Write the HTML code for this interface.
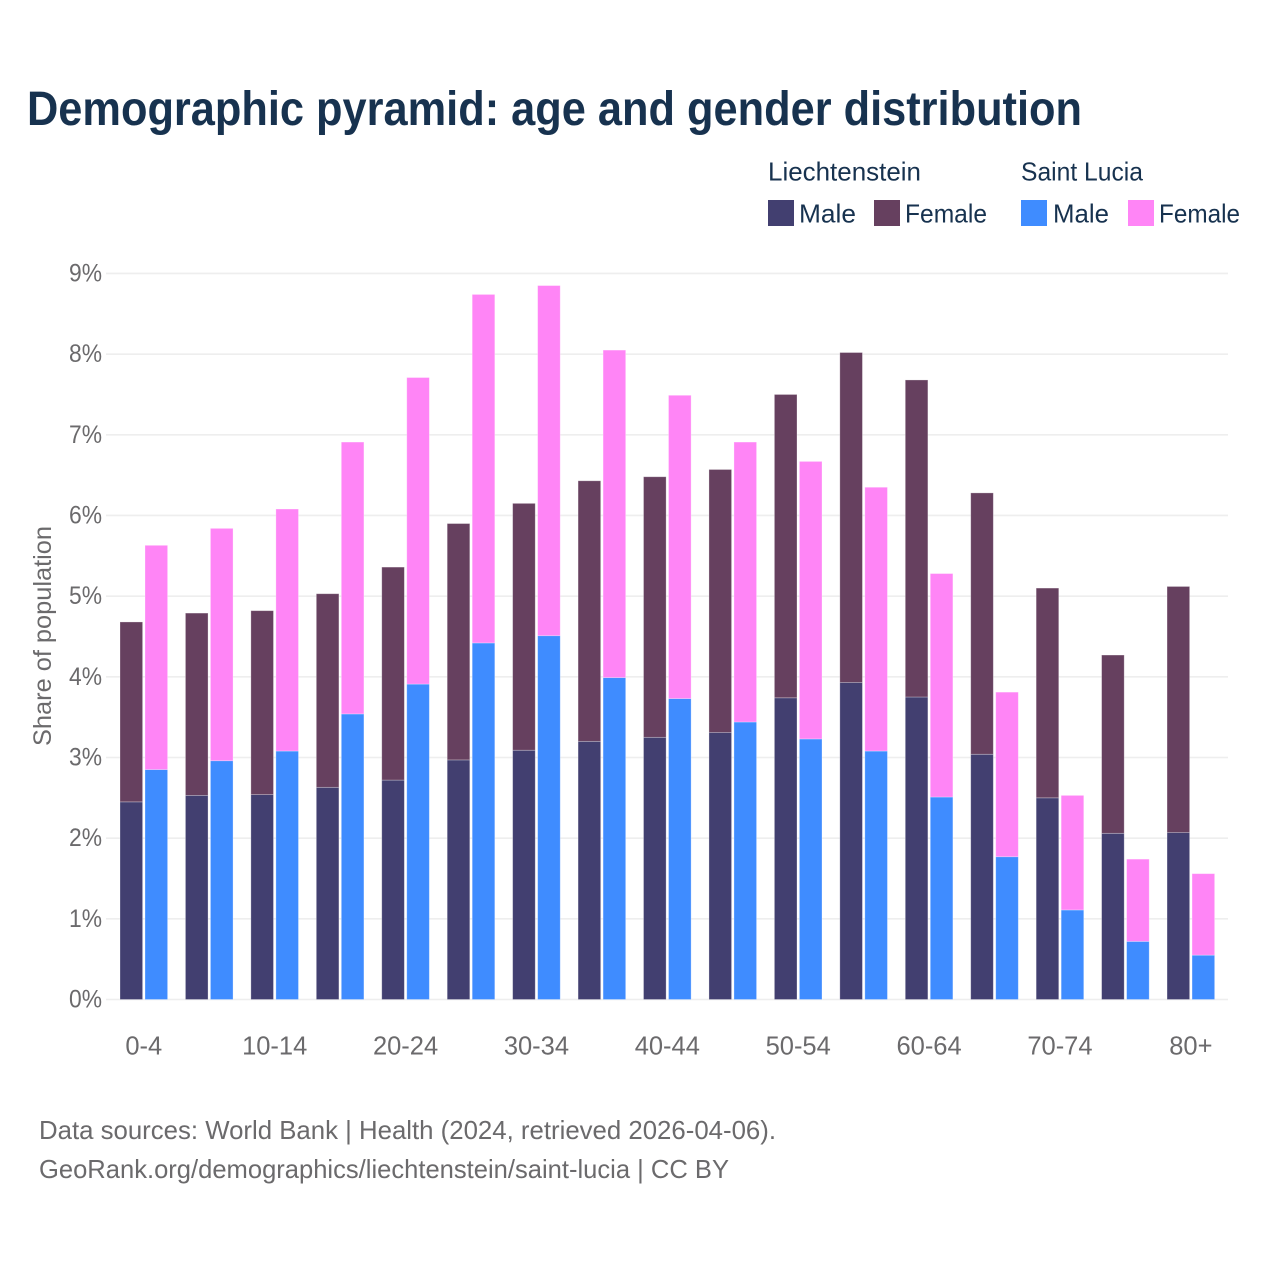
<!DOCTYPE html>
<html lang="en">
<head>
<meta charset="utf-8">
<title>Demographic pyramid: age and gender distribution</title>
<style>
html,body{margin:0;padding:0;background:#fff;}
svg{display:block;font-family:"Liberation Sans",sans-serif;}
</style>
</head>
<body>
<svg id="chart" xmlns="http://www.w3.org/2000/svg" width="1280" height="1280" viewBox="0 0 1280 1280">
<rect x="0" y="0" width="1280" height="1280" fill="#ffffff"/>
<text x="27" y="125" font-size="48" font-weight="700" fill="#17324f" textLength="1055" lengthAdjust="spacingAndGlyphs">Demographic pyramid: age and gender distribution</text>

<g font-size="26" fill="#17324f">
<text x="768" y="180.5" textLength="153" lengthAdjust="spacingAndGlyphs">Liechtenstein</text>
<text x="1021" y="180.5" textLength="122" lengthAdjust="spacingAndGlyphs">Saint Lucia</text>
<rect x="768" y="200" width="26" height="26" fill="#423f70"/>
<text x="799" y="222.5" textLength="57" lengthAdjust="spacingAndGlyphs">Male</text>
<rect x="874" y="200" width="26" height="26" fill="#66405f"/>
<text x="905" y="222.5" textLength="82" lengthAdjust="spacingAndGlyphs">Female</text>
<rect x="1021" y="200" width="26" height="26" fill="#3f8cff"/>
<text x="1053" y="222.5" textLength="56" lengthAdjust="spacingAndGlyphs">Male</text>
<rect x="1128" y="200" width="26" height="26" fill="#ff85f6"/>
<text x="1159" y="222.5" textLength="81" lengthAdjust="spacingAndGlyphs">Female</text>
</g>

<g id="grid"></g>
<g id="yticks"></g>
<g id="bars"></g>
<g id="xticks"></g>

<text transform="translate(51,746) rotate(-90)" font-size="25" fill="#6b6a6c" textLength="220" lengthAdjust="spacingAndGlyphs">Share of population</text>

<text x="39" y="1139" font-size="26" fill="#6b6a6c" textLength="737" lengthAdjust="spacingAndGlyphs">Data sources: World Bank | Health (2024, retrieved 2026-04-06).</text>
<text x="39" y="1178" font-size="26" fill="#6b6a6c" textLength="690" lengthAdjust="spacingAndGlyphs">GeoRank.org/demographics/liechtenstein/saint-lucia | CC BY</text>
</svg>
<script>
const ageGroups = ["0-4","5-9","10-14","15-19","20-24","25-29","30-34","35-39","40-44","45-49","50-54","55-59","60-64","65-69","70-74","75-79","80+"];
const xTickLabels = ["0-4","10-14","20-24","30-34","40-44","50-54","60-64","70-74","80+"];
const yTickValues = [0,1,2,3,4,5,6,7,8,9];
const liechtensteinMale = [2.45,2.53,2.54,2.63,2.72,2.97,3.09,3.20,3.25,3.31,3.74,3.93,3.75,3.04,2.50,2.06,2.07];
const liechtensteinFemale = [2.23,2.26,2.28,2.40,2.64,2.93,3.06,3.23,3.23,3.26,3.76,4.09,3.93,3.24,2.60,2.21,3.05];
const saintLuciaMale = [2.85,2.96,3.08,3.54,3.91,4.42,4.51,3.99,3.73,3.44,3.23,3.08,2.51,1.77,1.11,0.72,0.55];
const saintLuciaFemale = [2.78,2.88,3.00,3.37,3.80,4.32,4.34,4.06,3.76,3.47,3.44,3.27,2.77,2.04,1.42,1.02,1.01];

const NS = "http://www.w3.org/2000/svg";
const plotLeft = 106, plotRight = 1228, axisZero = 999.5, unitHeight = 80.67;
const firstBand = 120, bandStep = 65.44, barWidth = 22.6, barGap = 25;

function yScale(v){ return axisZero - v * unitHeight; }
function xScale(i, seriesIndex){ return firstBand + i * bandStep + seriesIndex * barGap; }

const grid = document.getElementById("grid");
const yticks = document.getElementById("yticks");
yTickValues.forEach(function(v){
  const line = document.createElementNS(NS, "line");
  
  
  line.setAttribute("x1", plotLeft);
  line.setAttribute("x2", plotRight);
  line.setAttribute("y1", yScale(v));
  line.setAttribute("y2", yScale(v));
  line.setAttribute("stroke", "#eeeeee");
  line.setAttribute("stroke-width", "1.6");
  grid.appendChild(line);

  const label = document.createElementNS(NS, "text");
  
  
  label.setAttribute("x", 69);
  label.setAttribute("y", yScale(v) + 8);
  label.setAttribute("font-size", "25");
  label.setAttribute("fill", "#6b6a6c");
  label.setAttribute("textLength", "33");
  label.setAttribute("lengthAdjust", "spacingAndGlyphs");
  label.textContent = v + "%";
  yticks.appendChild(label);
});

const bars = document.getElementById("bars");
function addBar(i, seriesIndex, start, value, color, name){
  const r = document.createElementNS(NS, "rect");
  
  
  const top = yScale(start + value);
  r.setAttribute("x", xScale(i, seriesIndex));
  r.setAttribute("y", top);
  r.setAttribute("width", barWidth);
  r.setAttribute("height", yScale(start) - top);
  r.setAttribute("fill", color);
  r.setAttribute("stroke", "#ffffff");
  r.setAttribute("stroke-opacity", "0.35");
  r.setAttribute("stroke-width", "0.8");
  bars.appendChild(r);
}
ageGroups.forEach(function(age, i){
  addBar(i, 0, 0, liechtensteinMale[i], "#423f70", "bar-liechtenstein-male");
  addBar(i, 0, liechtensteinMale[i], liechtensteinFemale[i], "#66405f", "bar-liechtenstein-female");
  addBar(i, 1, 0, saintLuciaMale[i], "#3f8cff", "bar-saint-lucia-male");
  addBar(i, 1, saintLuciaMale[i], saintLuciaFemale[i], "#ff85f6", "bar-saint-lucia-female");
});

const xticks = document.getElementById("xticks");
xTickLabels.forEach(function(tick){
  const i = ageGroups.indexOf(tick);
  const t = document.createElementNS(NS, "text");
  
  
  t.setAttribute("x", xScale(i, 0) + (barGap + barWidth) / 2);
  t.setAttribute("y", 1054.5);
  t.setAttribute("text-anchor", "middle");
  t.setAttribute("font-size", "25.5");
  t.setAttribute("fill", "#6b6a6c");
  t.textContent = tick;
  xticks.appendChild(t);
});
</script>
</body>
</html>
